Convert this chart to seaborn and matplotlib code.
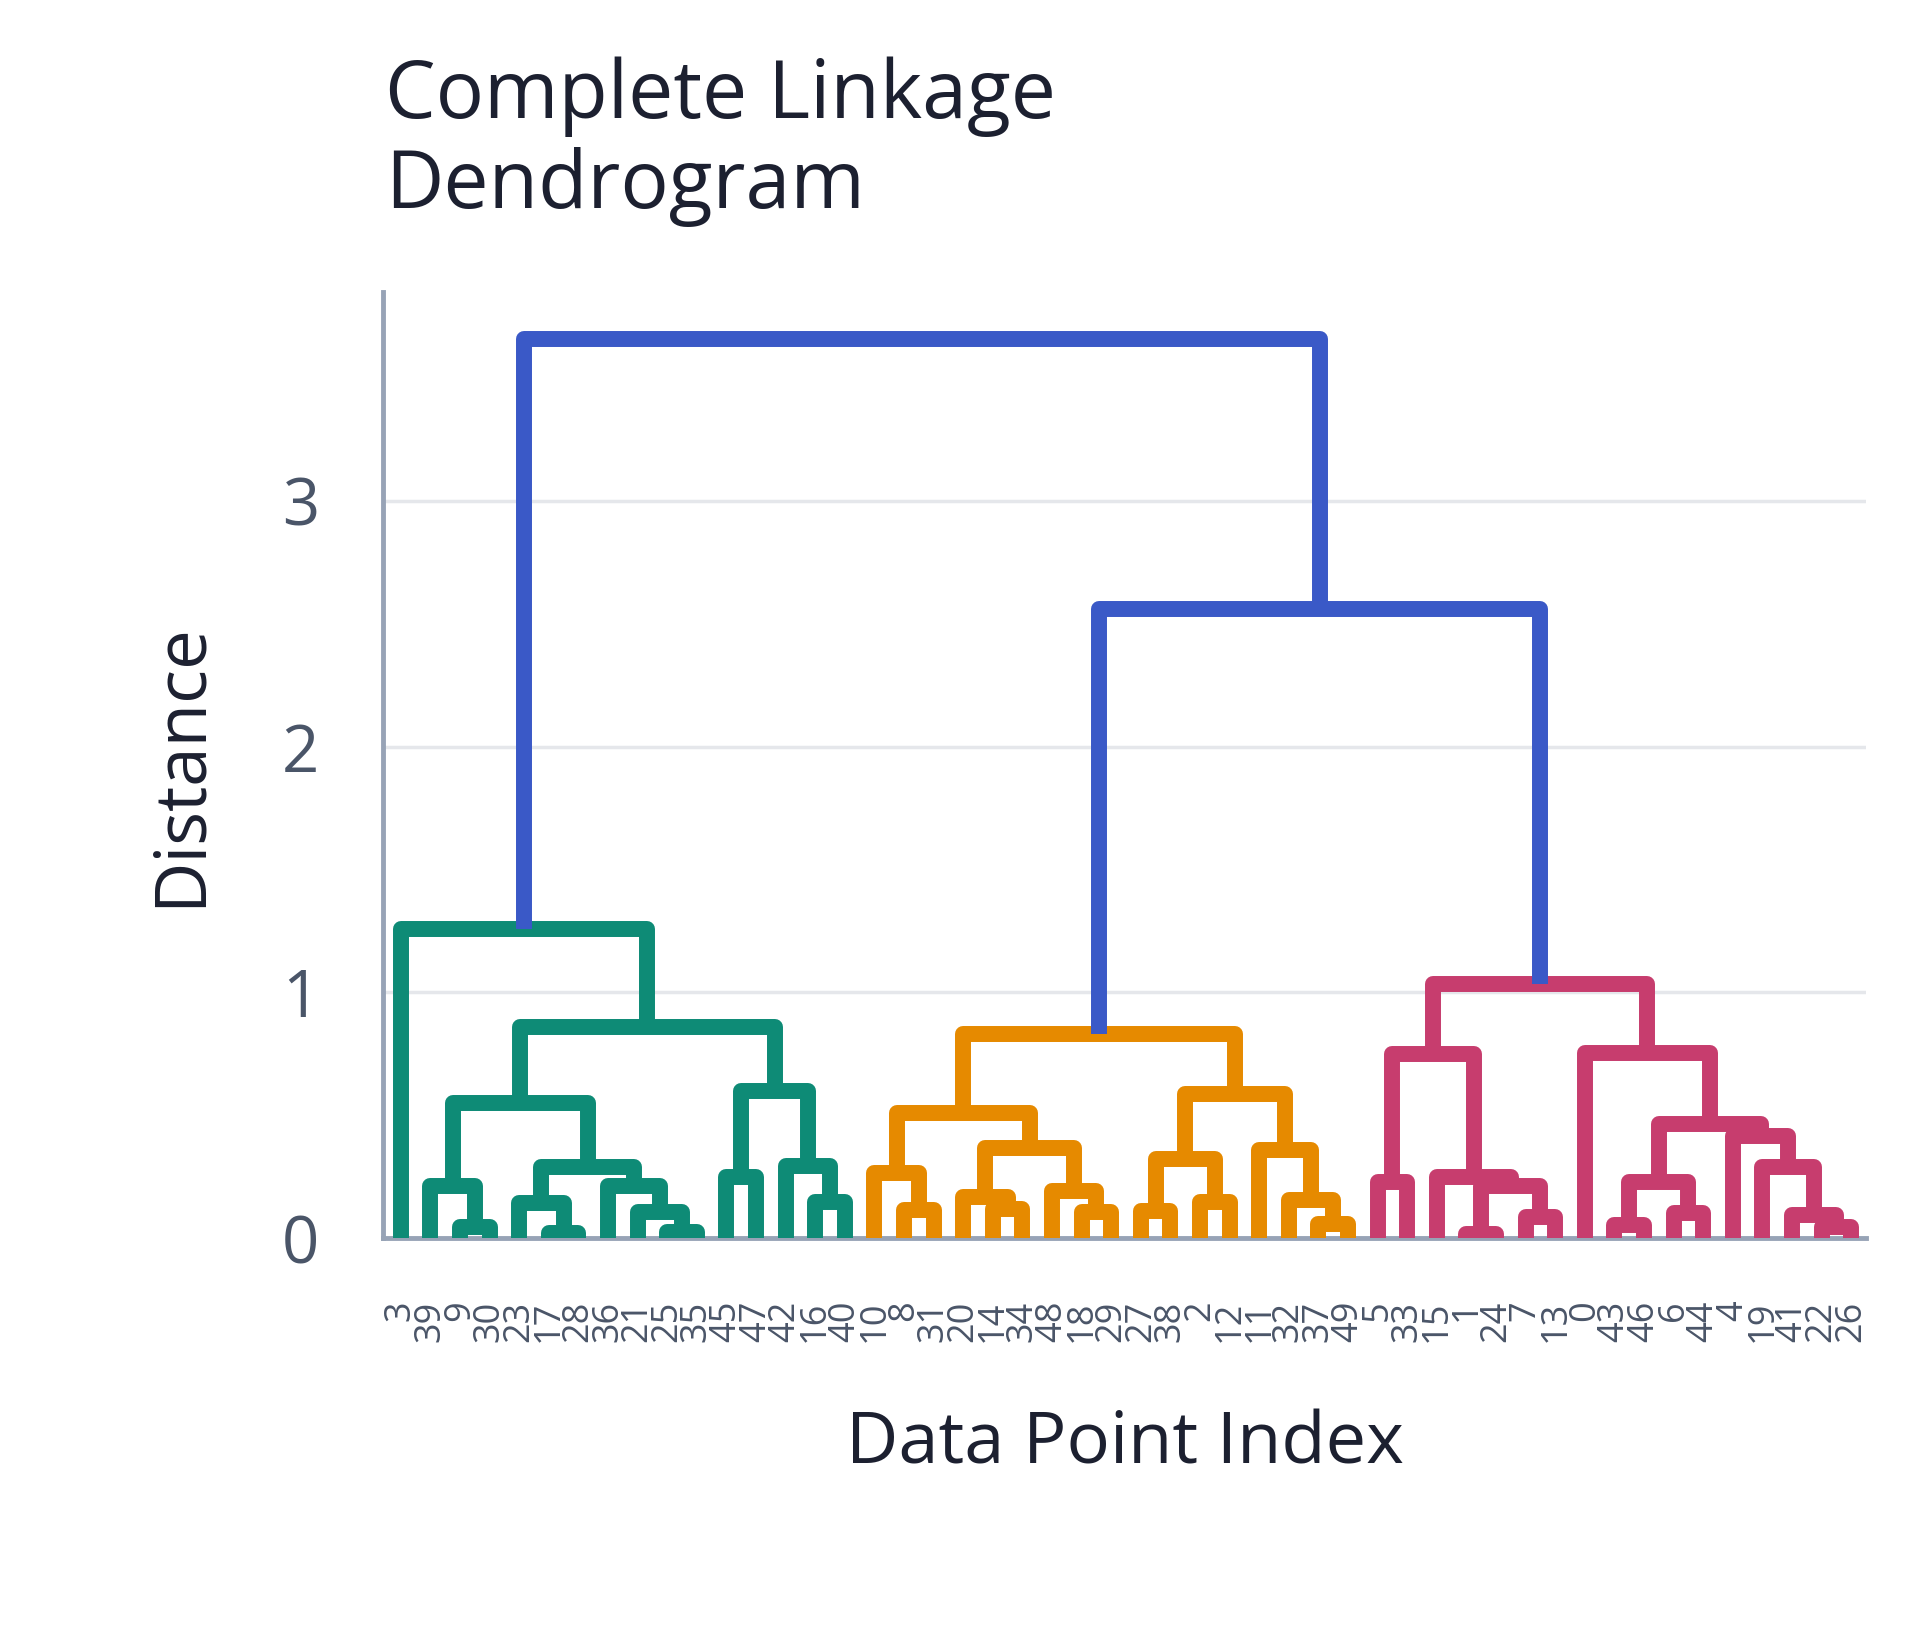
import matplotlib
matplotlib.use("Agg")
import matplotlib.pyplot as plt
import seaborn as sns
import pandas as pd

# leaf order along the x axis (data point indices)
leaf_order = [3, 39, 9, 30, 23, 17, 28, 36, 21, 25, 35, 45, 47, 42, 16, 40,
              10, 8, 31, 20, 14, 34, 48, 18, 29, 27, 38, 2, 12, 11, 32, 37, 49,
              5, 33, 15, 1, 24, 7, 13, 0, 43, 46, 6, 44, 4, 19, 41, 22, 26]

# merges, scipy style: ids >= 50 refer to merge row (id - 50)
merge_left = [9, 39, 17, 23, 25, 21, 36, 53, 51, 45, 16, 42, 59, 58, 3,
              8, 10, 14, 20, 18, 48, 68, 66, 27, 2, 73, 37, 32, 11, 75, 72,
              1, 7, 81, 15, 5, 85, 43, 6, 87, 22, 41, 19, 4, 89, 0, 86,
              80, 64]
merge_right = [30, 50, 28, 52, 35, 54, 55, 56, 57, 47, 40, 60, 61, 62, 63,
               31, 65, 34, 67, 29, 69, 70, 71, 38, 12, 74, 49, 76, 77, 78, 79,
               24, 13, 82, 83, 33, 84, 46, 44, 88, 26, 90, 91, 92, 93, 94, 95,
               96, 97]
merge_height = [0.046, 0.213, 0.022, 0.141, 0.026, 0.107, 0.213, 0.29, 0.551,
                0.249, 0.148, 0.294, 0.598, 0.859, 1.259,
                0.114, 0.265, 0.117, 0.168, 0.107, 0.19, 0.367, 0.507, 0.11,
                0.148, 0.32, 0.057, 0.154, 0.358, 0.588, 0.832,
                0.015, 0.087, 0.211, 0.249, 0.229, 0.747, 0.053, 0.10, 0.229,
                0.046, 0.093, 0.29, 0.416, 0.463, 0.753, 1.033,
                2.56, 3.66]

color_threshold = 2.0
cluster_names = ["c1", "c2", "c3", "above"]
cluster_colors = ["#0e8b76", "#e68a00", "#c73d6e", "#3a59c7"]

n = len(leaf_order)
xpos = {lab: i for i, lab in enumerate(leaf_order)}
ypos = {lab: 0.0 for lab in leaf_order}
children = {}
for k, (a, b, h) in enumerate(zip(merge_left, merge_right, merge_height)):
    node = n + k
    children[node] = (a, b)
    xpos[node] = (xpos[a] + xpos[b]) / 2
    ypos[node] = h

# colour clusters below the threshold, left to right
group = {}
next_color = 0
stack = [(n + len(merge_height) - 1, None)]
while stack:
    node, g = stack.pop()
    if node not in children:
        continue
    if g is None and ypos[node] < color_threshold:
        g = cluster_names[next_color]
        next_color += 1
    group[node] = g if g is not None else "above"
    a, b = children[node]
    stack.append((b, g))
    stack.append((a, g))

rows = []
for node, (a, b) in children.items():
    xs = [xpos[a], xpos[a], xpos[b], xpos[b]]
    ys = [ypos[a], ypos[node], ypos[node], ypos[b]]
    for x, y in zip(xs, ys):
        rows.append({"link": node, "x": x, "y": y, "cluster": group[node]})
df = pd.DataFrame(rows)

sns.set_theme(style="white")
plt.rcParams["font.family"] = ["Open Sans", "DejaVu Sans"]

fig = plt.figure(figsize=(19.2, 16.29), dpi=100)
ax = fig.add_axes([0.1995, 0.240, 0.7724, 0.5807])

sns.lineplot(data=df, x="x", y="y", hue="cluster", hue_order=cluster_names,
             palette=cluster_colors, units="link", estimator=None, sort=False,
             legend=False, linewidth=11.5, solid_joinstyle="round",
             solid_capstyle="butt", zorder=3, ax=ax)

ax.set_xlim(-0.6, n - 0.5)
ax.set_ylim(0, 3.85)
ax.set_yticks([0, 1, 2, 3])
ax.set_xticks(range(n))
ax.set_xticklabels([str(v) for v in leaf_order], rotation=90)

ax.yaxis.grid(True, color="#e5e7eb", linewidth=2.5)
ax.xaxis.grid(False)
ax.set_axisbelow(True)
for s in ["top", "right"]:
    ax.spines[s].set_visible(False)
for s in ["left", "bottom"]:
    ax.spines[s].set_color("#97a3b6")
    ax.spines[s].set_linewidth(3.5)

ax.tick_params(axis="y", length=14, width=3.5, color="#4b5563", pad=32,
               labelsize=47, labelcolor="#4a5568")
ax.tick_params(axis="x", length=0, pad=45, labelsize=26, labelcolor="#4a5568")

ax.set_ylabel("Distance", fontsize=51, labelpad=47, color="#1c2030")
ax.set_xlabel("Data Point Index", fontsize=52, labelpad=48, color="#1c2030")

# va="baseline" on multi-line text lines up the last line's baseline
fig.text(385 / 1920, 1 - 208 / 1629, "Complete Linkage\nDendrogram",
         fontsize=58, ha="left", va="baseline", linespacing=1.15,
         color="#1c2030")

fig.savefig("out.png", dpi=100)
